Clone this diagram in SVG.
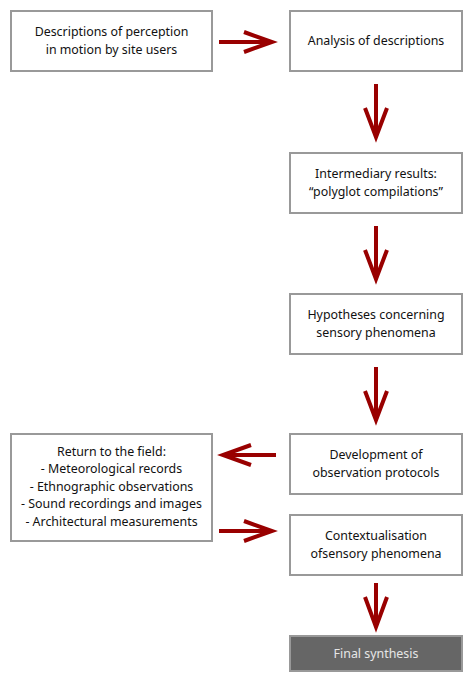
<svg xmlns="http://www.w3.org/2000/svg" width="475" height="684" viewBox="0 0 475 684">
<style>
.box{fill:#fff;stroke:#999;stroke-width:2}
.dark{fill:#666;stroke:#999;stroke-width:2}
text{font-family:"Noto Sans","DejaVu Sans",sans-serif;font-size:12.4px;fill:#111;text-anchor:middle}
.light{fill:#e6e6e6}
.arr{fill:none;stroke:#990000;stroke-width:4;stroke-linecap:butt;stroke-linejoin:miter}
</style>
<rect width="475" height="684" fill="#fff"/>
<g id="n1"><rect class="box" x="11" y="11" width="201" height="60"/><text x="111.5" y="36">Descriptions of perception</text><text x="111.5" y="54">in motion by site users</text></g>
<g id="n2"><rect class="box" x="290" y="11" width="172" height="60"/><text x="376" y="45">Analysis of descriptions</text></g>
<g id="n3"><rect class="box" x="290" y="153" width="172" height="60"/><text x="376" y="178">Intermediary results:</text><text x="376" y="196">“polyglot compilations”</text></g>
<g id="n4"><rect class="box" x="290" y="294" width="172" height="60"/><text x="376" y="319">Hypotheses concerning</text><text x="376" y="337">sensory phenomena</text></g>
<g id="n5"><rect class="box" x="290" y="434" width="172" height="60"/><text x="376" y="459">Development of</text><text x="376" y="477">observation protocols</text></g>
<g id="n6"><rect class="box" x="11" y="434" width="201" height="107"/><text x="111.5" y="456">Return to the field:</text><text x="111.5" y="473">- Meteorological records</text><text x="111.5" y="491">- Ethnographic observations</text><text x="111.5" y="508">- Sound recordings and images</text><text x="111.5" y="526">- Architectural measurements</text></g>
<g id="n7"><rect class="box" x="290" y="515" width="172" height="60"/><text x="376" y="540">Contextualisation</text><text x="376" y="558">ofsensory phenomena</text></g>
<g id="n8"><rect class="dark" x="290" y="636" width="172" height="35"/><text class="light" x="376" y="658">Final synthesis</text></g>
<g id="connectors">
<path class="arr" d="M219 42H272M244 32L272 42L244 52"/>
<path class="arr" d="M376 84V137M365 108L376 137L387 108"/>
<path class="arr" d="M376 226V279M365 250L376 279L387 250"/>
<path class="arr" d="M376 367V420M365 391L376 420L387 391"/>
<path class="arr" d="M276 455H223M251 445L223 455L251 465"/>
<path class="arr" d="M219 531H272M244 521L272 531L244 541"/>
<path class="arr" d="M376 583V627M365 597L376 627L387 597"/>
</g>
</svg>
